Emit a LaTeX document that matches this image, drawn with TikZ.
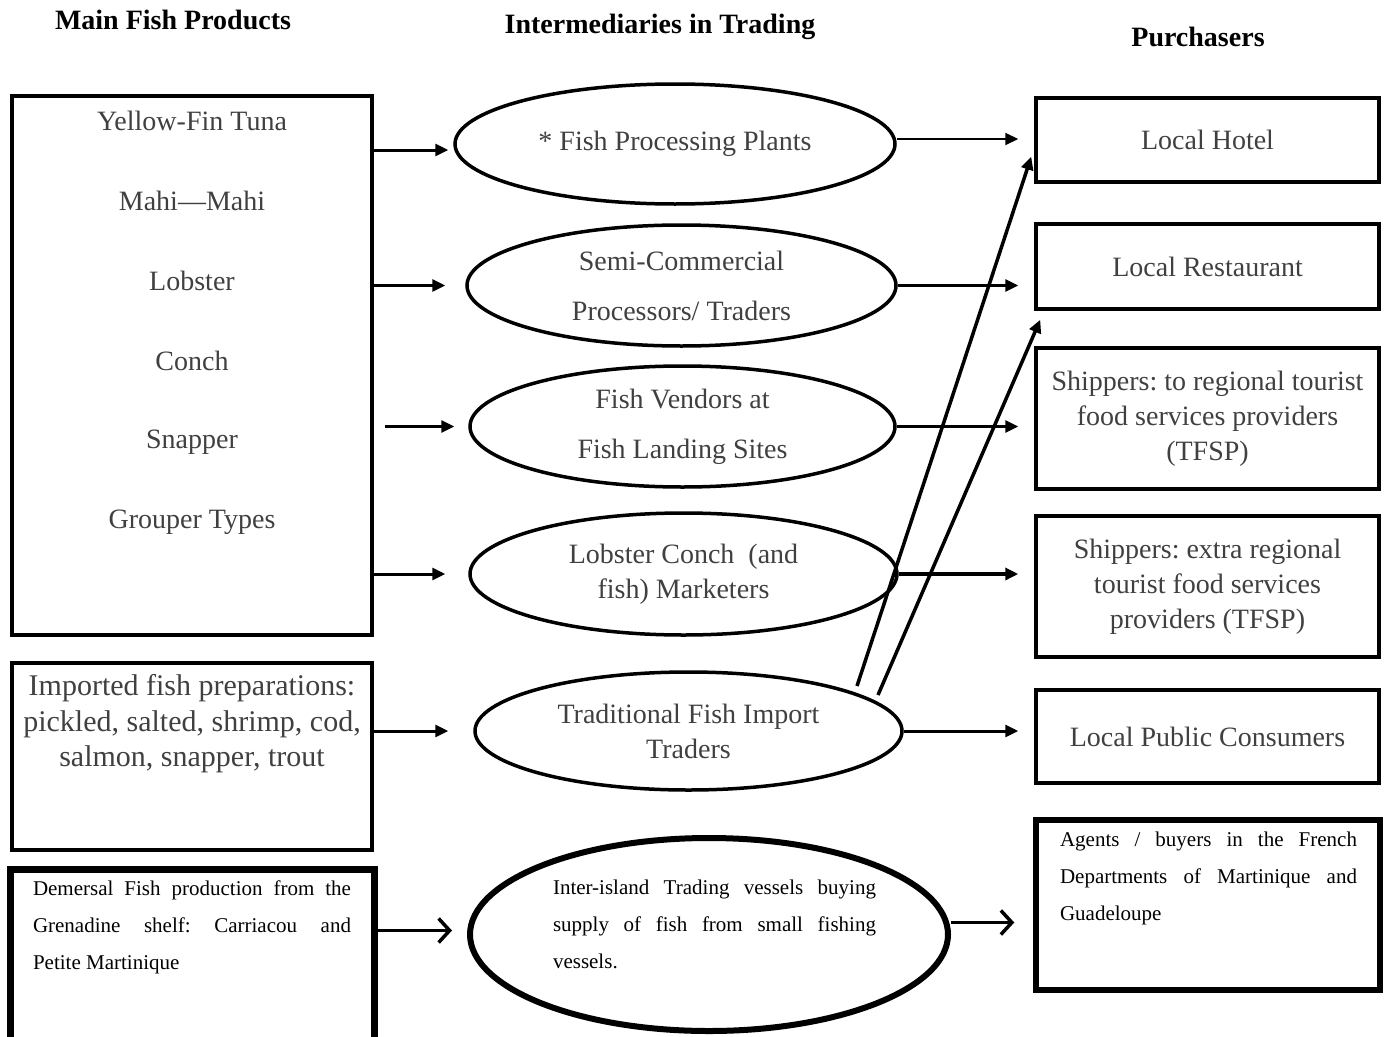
\documentclass[tikz,border=0pt]{standalone}
\usepackage{fontspec}
\setmainfont{Liberation Serif}
\usepackage{tikz}
\usetikzlibrary{shapes.geometric,arrows.meta}
\frenchspacing

\tikzset{
  heading/.style={font=\bfseries\fontsize{28}{32}\selectfont},
  itemtext/.style={text=black!75, font=\fontsize{28}{35}\selectfont, align=center},
  notetext/.style={font=\fontsize{21}{37}\selectfont, align=justify},
  srcbox/.style={rectangle, draw, line width=3.5pt, inner sep=0pt},
  tradeell/.style={ellipse, draw, line width=3.5pt, inner sep=0pt, itemtext},
  buyerbox/.style={rectangle, draw, line width=3.5pt, inner sep=0pt, minimum width=343pt, itemtext},
  flow/.style={-{Triangle[length=13pt,width=12pt]}, line width=3pt},
  openflow/.style={-{Straight Barb[length=11pt,width=24pt]}, line width=3.5pt}
}

\begin{document}
\begin{tikzpicture}[x=1pt,y=-1pt]
\useasboundingbox (0,0) rectangle (1386,1036);

\node[heading] (headprod) at (173,20) {Main Fish Products};
\node[heading] (headtrade) at (660,27) {Intermediaries in Trading};
\node[heading] (headbuy) at (1198,37) {Purchasers};

\node[srcbox, minimum width=360pt, minimum height=539pt] (products) at (192,365.5) {};
\node[itemtext] (tuna) at (192,121) {Yellow-Fin Tuna};
\node[itemtext] (mahi) at (192,201) {Mahi---Mahi};
\node[itemtext] (lobster) at (192,281) {Lobster};
\node[itemtext] (conch) at (192,361) {Conch};
\node[itemtext] (snapper) at (192,442) {Snapper};
\node[itemtext] (grouper) at (192,522) {Grouper Types};

\node[srcbox, minimum width=360pt, minimum height=187pt] (imported) at (192,756.5) {};
\node[itemtext, font=\fontsize{30}{35.5}\selectfont] (importedtxt) at (192,724) {Imported fish preparations:\\ pickled, salted, shrimp, cod,\\ salmon, snapper, trout};
\node[srcbox, line width=7pt, minimum width=364pt, minimum height=180pt] (demersal) at (192,959) {};
\node[notetext, text width=318pt] (demersaltxt) at (192,927) {Demersal Fish production from the\linebreak Grenadine shelf: Carriacou and\linebreak Petite Martinique};

\node[tradeell, minimum width=440pt, minimum height=120pt] (plants) at (675,144) {* Fish Processing Plants};
\node[tradeell, minimum width=429pt, minimum height=121pt, font=\fontsize{28}{50}\selectfont] (semi) at (681.5,285.5) {Semi-Commercial\\ Processors/ Traders};
\node[tradeell, minimum width=425pt, minimum height=121pt, font=\fontsize{28}{50}\selectfont] (vendors) at (682.5,426.5) {Fish Vendors at\\ Fish Landing Sites};
\node[tradeell, minimum width=427pt, minimum height=122pt] (marketers) at (683.5,574) {Lobster Conch~~(and\\ fish) Marketers};
\node[tradeell, minimum width=427pt, minimum height=118pt] (traders) at (688.5,731) {Traditional Fish Import\\ Traders};
\node[tradeell, line width=6pt, minimum width=478pt, minimum height=193pt] (vessel) at (709,934.5) {};
\node[notetext, text width=323pt] (vesseltxt) at (714.5,924) {Inter-island Trading vessels buying\linebreak supply of fish from small fishing\linebreak vessels.};

\node[buyerbox, minimum height=84pt] (hotel) at (1207.5,140) {Local Hotel};
\node[buyerbox, minimum height=85pt] (restaurant) at (1207.5,266.5) {Local Restaurant};
\node[buyerbox, minimum height=141pt] (regional) at (1207.5,418.5) {Shippers: to regional tourist\\ food services providers\\ (TFSP)};
\node[buyerbox, minimum height=141pt] (extraregional) at (1207.5,586.5) {Shippers: extra regional\\ tourist food services\\ providers (TFSP)};
\node[buyerbox, minimum height=93pt] (public) at (1207.5,736.5) {Local Public Consumers};
\node[srcbox, line width=5.5pt, minimum width=344pt, minimum height=170pt] (agents) at (1208,905) {};
\node[notetext, text width=297pt] (agentstxt) at (1208.5,878) {Agents / buyers in the French\linebreak Departments of Martinique and\linebreak Guadeloupe};

\draw[flow, shorten >=5pt] ([yshift=-6pt]plants.west -| products.east) -- ([yshift=-6pt]plants.west);
\draw[flow, shorten >=20pt] (products.east |- semi.west) -- (semi.west);
\draw[flow, shorten >=14pt] ([xshift=11pt]products.east |- vendors.west) -- (vendors.west);
\draw[flow, shorten >=23pt] (products.east |- marketers.west) -- (marketers.west);
\draw[flow, shorten >=25pt] (imported.east |- traders.west) -- (traders.west);
\draw[openflow, shorten >=15pt] ([yshift=4pt]vessel.west -| demersal.east) -- ([yshift=4pt]vessel.west);

\draw[flow, line width=2pt, shorten >=16pt] ([yshift=5pt]plants.east) -- ([yshift=5pt]plants.east -| hotel.west);
\draw[flow, shorten >=16pt] (semi.east) -- (semi.east -| restaurant.west);
\draw[flow, shorten >=16pt] (vendors.east) -- (vendors.east -| regional.west);
\draw[flow, line width=3.5pt, shorten >=16pt] (marketers.east) -- (marketers.east -| extraregional.west);
\draw[flow, shorten >=16pt] (traders.east) -- (traders.east -| public.west);
\draw[openflow, shorten >=19pt] ([yshift=12pt]vessel.east) -- ([yshift=12pt]vessel.east -| agents.west);

\coordinate (importA) at (857,686);
\coordinate (importB) at (878,695);
\draw[flow, line width=3.5pt] (importA) -- ([shift={(-3pt,27pt)}]hotel.south west);
\draw[flow, line width=3.5pt] (importB) -- ([shift={(6pt,-9pt)}]restaurant.south west);
\end{tikzpicture}
\end{document}
